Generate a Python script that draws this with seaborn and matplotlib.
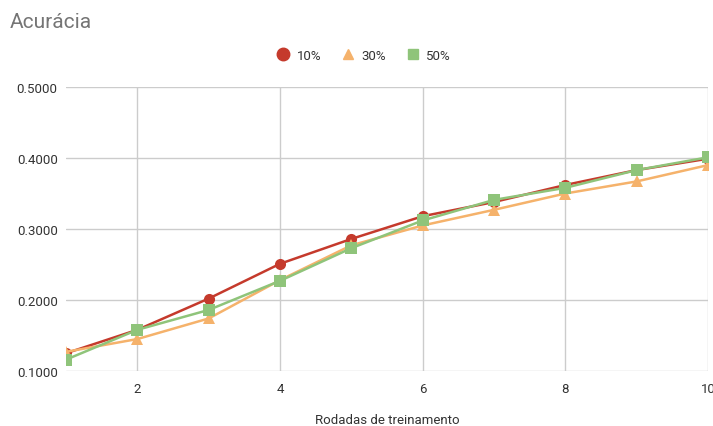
import matplotlib
matplotlib.use("Agg")
import matplotlib.pyplot as plt
import seaborn as sns
import pandas as pd

rounds = [1, 2, 3, 4, 5, 6, 7, 8, 9, 10]
acc_10 = [0.125, 0.158, 0.202, 0.251, 0.286, 0.318, 0.338, 0.362, 0.383, 0.399]
acc_30 = [0.127, 0.145, 0.174, 0.228, 0.277, 0.305, 0.327, 0.350, 0.367, 0.390]
acc_50 = [0.116, 0.158, 0.186, 0.227, 0.273, 0.312, 0.341, 0.358, 0.383, 0.401]
series_names = ["10%", "30%", "50%"]
y_ticks = [0.1, 0.2, 0.3, 0.4, 0.5]
x_ticks = [2, 4, 6, 8, 10]

df = pd.DataFrame({
    "Rodada": rounds * 3,
    "Acurácia": acc_10 + acc_30 + acc_50,
    "Série": [series_names[0]] * 10 + [series_names[1]] * 10 + [series_names[2]] * 10,
})

sns.set_theme(style="white")
plt.rcParams["font.family"] = ["Roboto", "DejaVu Sans"]

colors = {"10%": "#c53a2c", "30%": "#f5b26b", "50%": "#8fc47a"}
markers = {"10%": "o", "30%": "^", "50%": "s"}

fig = plt.figure(figsize=(7.13, 4.27), dpi=100)
ax = fig.add_axes([66 / 713, 1 - 372 / 427, (708 - 66) / 713, (372 - 88) / 427])

sns.lineplot(data=df, x="Rodada", y="Acurácia", hue="Série", style="Série",
             palette=colors, markers=markers, dashes=False, linewidth=1.8,
             markersize=8, markeredgewidth=0, ax=ax, legend=False)

ax.set_xlim(1, 10)
ax.set_ylim(0.1, 0.5)
ax.set_xticks(x_ticks)
ax.set_yticks(y_ticks)
ax.set_yticklabels([f"{v:.4f}" for v in y_ticks])
ax.grid(True, color="#cccccc", linewidth=1)
ax.set_axisbelow(True)
for s in ax.spines.values():
    s.set_visible(False)
ax.tick_params(axis="both", length=0, labelsize=9.5, colors="#333333")
ax.tick_params(axis="x", pad=8)
ax.tick_params(axis="y", pad=6)
ax.set_ylabel("")
ax.set_xlabel("Rodadas de treinamento", fontsize=9.5, color="#333333", labelpad=13)

fig.text(10 / 713, 1 - 22 / 427, "Acurácia", fontsize=15, color="#757575", va="center", ha="left")

# legend row
handles = [plt.Line2D([], [], linestyle="none", marker=markers[n], color=colors[n],
                      markersize=9 if n == "10%" else 7) for n in series_names]
fig.legend(handles, series_names, loc="center", bbox_to_anchor=(362 / 713, 1 - 56 / 427),
           ncol=3, frameon=False, fontsize=9.5, handletextpad=0.2, columnspacing=1.25,
           handlelength=1.6, labelcolor="#333333")

fig.savefig("out.png", dpi=100)
